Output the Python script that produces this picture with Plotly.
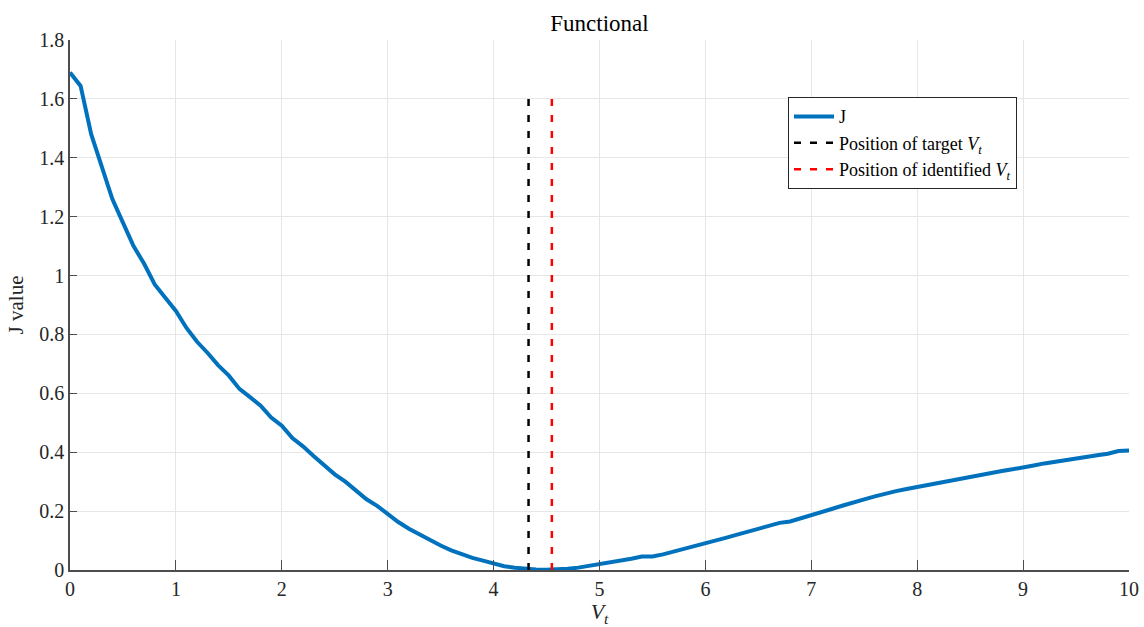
import plotly.graph_objects as go

# Functional J sampled over the candidate V_t grid
vt = [round(0.1 * i, 1) for i in range(101)]
j_values = [
    1.690, 1.644, 1.480, 1.365, 1.260, 1.180, 1.100, 1.040, 0.970, 0.925,
    0.880, 0.822, 0.775, 0.737, 0.695, 0.660, 0.615, 0.587, 0.558, 0.518,
    0.490, 0.448, 0.420, 0.387, 0.355, 0.325, 0.300, 0.268, 0.240, 0.218,
    0.190, 0.163, 0.140, 0.120, 0.103, 0.083, 0.067, 0.054, 0.041, 0.032,
    0.022, 0.013, 0.008, 0.004, 0.002, 0.001, 0.001, 0.004, 0.008, 0.014,
    0.019, 0.024, 0.033, 0.038, 0.046, 0.046, 0.053, 0.062, 0.071, 0.081,
    0.090, 0.100, 0.110, 0.120, 0.130, 0.139, 0.147, 0.160, 0.165, 0.175,
    0.186, 0.198, 0.208, 0.219, 0.228, 0.240, 0.250, 0.260, 0.268, 0.275,
    0.282, 0.290, 0.296, 0.303, 0.308, 0.315, 0.322, 0.330, 0.336, 0.342,
    0.350, 0.355, 0.362, 0.368, 0.375, 0.381, 0.386, 0.390, 0.395, 0.404,
    0.406,
]

target_vt = 4.33
identified_vt = 4.55
marker_top = 1.6

x_ticks = list(range(0, 11))
y_ticks = [0, 0.2, 0.4, 0.6, 0.8, 1.0, 1.2, 1.4, 1.6, 1.8]
y_tick_text = ["0", "0.2", "0.4", "0.6", "0.8", "1", "1.2", "1.4", "1.6", "1.8"]

FONT = "Liberation Serif"
VT_LABEL = "<i>V<sub>t</sub></i>"

fig = go.Figure()
fig.add_trace(go.Scatter(
    x=vt, y=j_values, mode="lines", name="J",
    line=dict(color="#0072BD", width=4),
))
fig.add_trace(go.Scatter(
    x=[target_vt, target_vt], y=[0, marker_top], mode="lines",
    name="Position of target " + VT_LABEL,
    line=dict(color="black", width=2.5, dash="7px,9px"),
))
fig.add_trace(go.Scatter(
    x=[identified_vt, identified_vt], y=[0, marker_top], mode="lines",
    name="Position of identified " + VT_LABEL,
    line=dict(color="#FF0000", width=2.5, dash="7px,9px"),
))

axis_common = dict(
    showgrid=True, gridcolor="#e6e6e6", gridwidth=1,
    zeroline=False, showline=True, linecolor="#4d4d4d", linewidth=1.5,
    ticks="inside", tickcolor="#4d4d4d", tickwidth=1.2,
    tickfont=dict(family=FONT, size=20, color="#262626"),
    automargin=False,
)

fig.update_layout(
    width=1144, height=627,
    margin=dict(l=70, r=15, t=40, b=57),
    paper_bgcolor="white", plot_bgcolor="white",
    font=dict(family=FONT, size=18, color="#262626"),
    title=dict(text="Functional", xref="paper", x=0.5, xanchor="center", y=0.963,
               yanchor="middle", font=dict(family=FONT, size=23, color="black")),
    xaxis=dict(range=[0, 10], tickvals=x_ticks, ticklen=10,
               title=dict(text=VT_LABEL, standoff=4,
                          font=dict(family=FONT, size=22, color="#262626")),
               **axis_common),
    yaxis=dict(range=[0, 1.8], tickvals=y_ticks, ticktext=y_tick_text, ticklen=7,
               title=dict(text="J value", standoff=10,
                          font=dict(family=FONT, size=21, color="#262626")),
               **axis_common),
    legend=dict(x=0.678, y=0.892, xanchor="left", yanchor="top",
                bgcolor="white", bordercolor="#262626", borderwidth=1,
                font=dict(family=FONT, size=18, color="black"),
                tracegroupgap=0, itemwidth=40),
    showlegend=True,
)

fig.write_html("out.html")
